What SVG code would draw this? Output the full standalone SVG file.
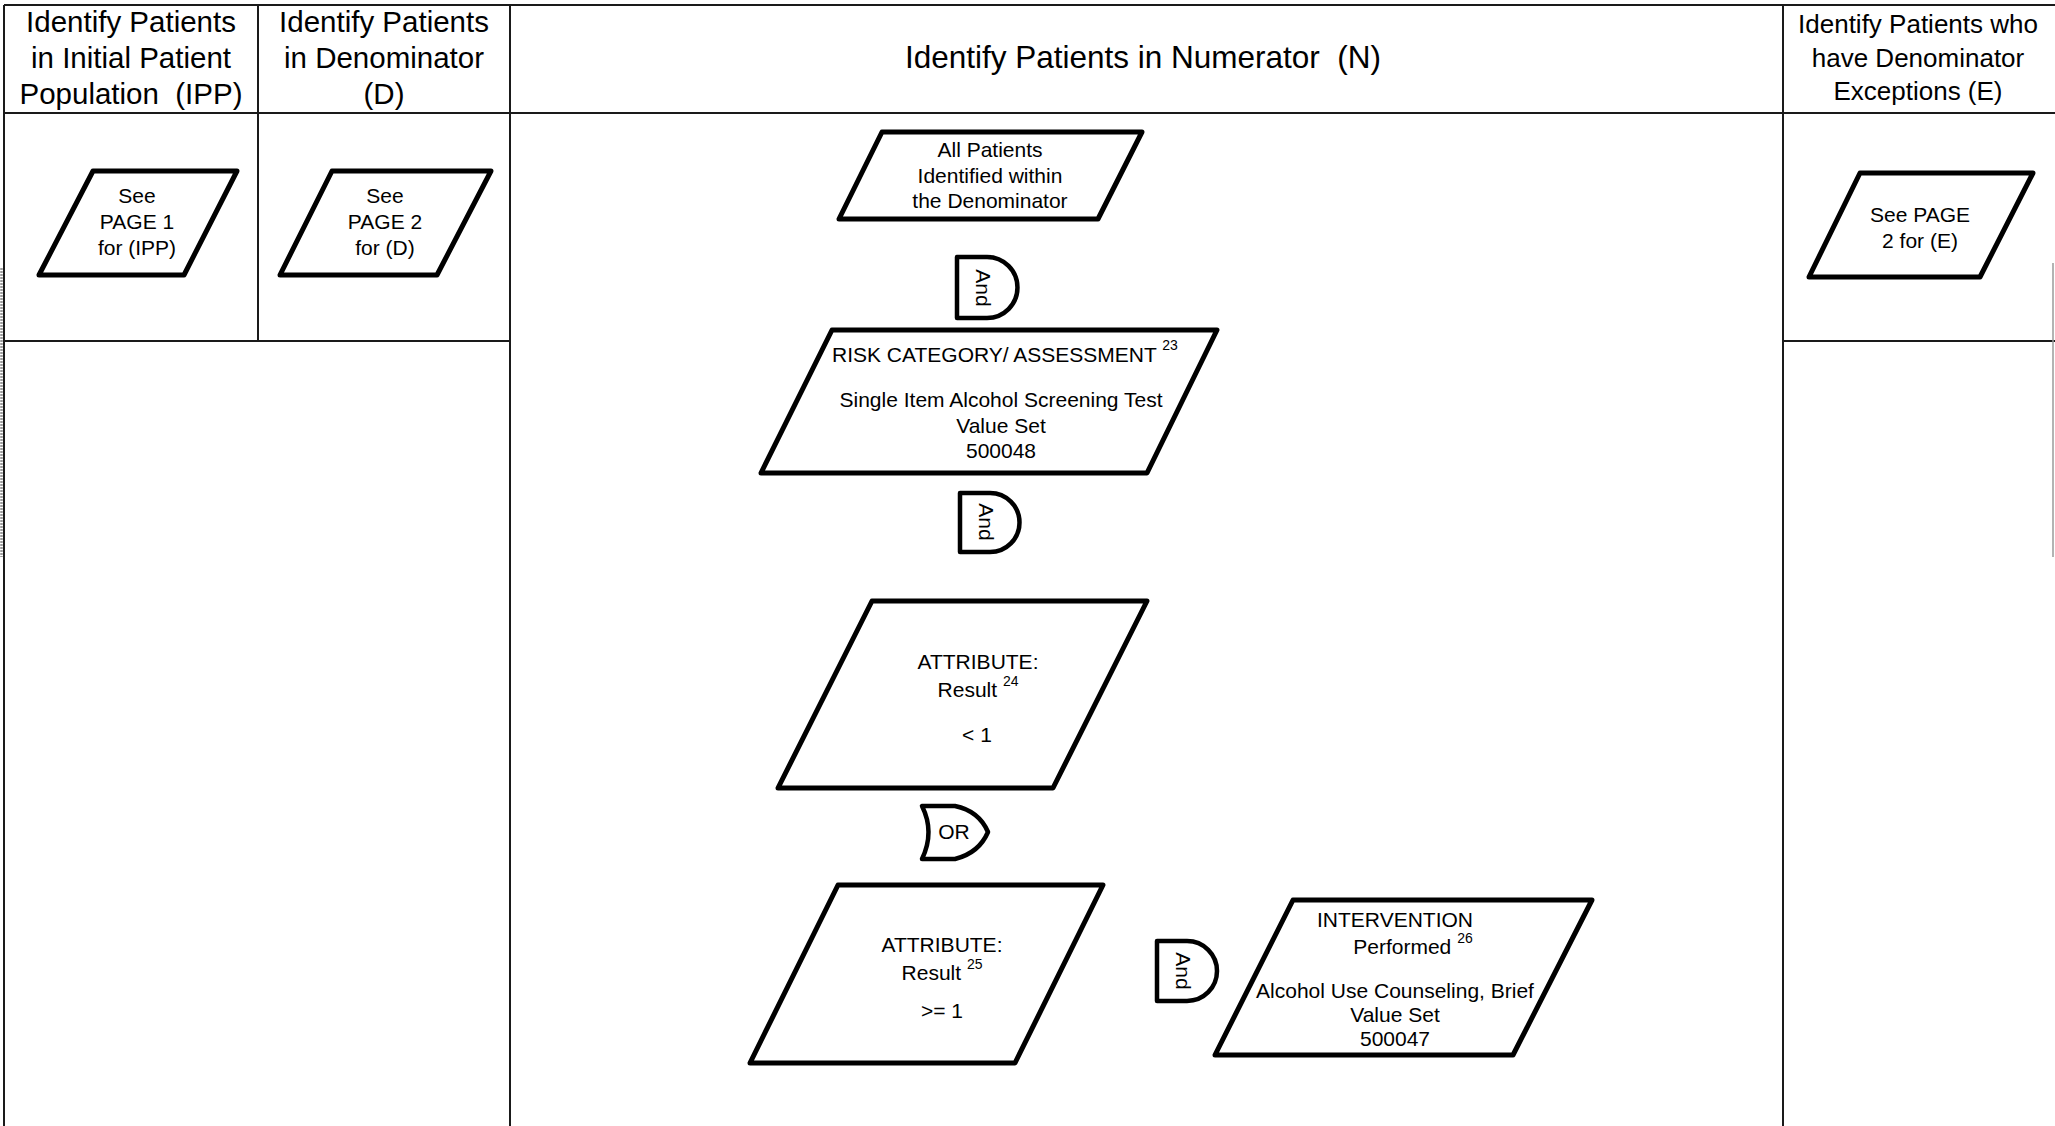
<svg xmlns="http://www.w3.org/2000/svg" width="2055" height="1126" viewBox="0 0 2055 1126">
  <style>
    .grid { stroke: #1a1a1a; stroke-width: 2; fill: none; }
    .shape { fill: #ffffff; stroke: #000000; stroke-width: 5; stroke-linejoin: round; }
    .gate { fill: #ffffff; stroke: #000000; stroke-width: 4.5; stroke-linejoin: round; }
    .hdr { font-family: "Liberation Sans", Arial, sans-serif; fill: #000; text-anchor: middle; }
    .t { font-family: "Liberation Sans", Arial, sans-serif; font-size: 21px; fill: #000; text-anchor: middle; }
    .left { text-anchor: start; }
    .sup { font-size: 14px; }
  </style>

  <rect x="0" y="0" width="2055" height="1126" fill="#ffffff"/>

  <!-- swimlane table -->
  <g id="lanes">
    <line class="grid" x1="4" y1="5" x2="2055" y2="5"/>
    <line class="grid" x1="4" y1="5" x2="4" y2="1126"/>
    <line class="grid" x1="258" y1="5" x2="258" y2="341"/>
    <line class="grid" x1="510" y1="5" x2="510" y2="1126"/>
    <line class="grid" x1="1783" y1="5" x2="1783" y2="1126"/>
    <line class="grid" x1="4" y1="113" x2="2055" y2="113"/>
    <line class="grid" x1="4" y1="341" x2="510" y2="341"/>
    <line class="grid" x1="1783" y1="341" x2="2055" y2="341"/>
    <line x1="1.5" y1="268" x2="1.5" y2="557" stroke="#9a9a9a" stroke-width="2.5" stroke-dasharray="2 1"/>
    <line x1="2053" y1="263" x2="2053" y2="557" stroke="#9a9a9a" stroke-width="1.5"/>
  </g>

  <!-- lane headings -->
  <g id="headings">
    <text class="hdr" font-size="29.5" x="131" y="32">Identify Patients</text>
    <text class="hdr" font-size="29.5" x="131" y="68">in Initial Patient</text>
    <text class="hdr" font-size="29.5" x="131" y="104" xml:space="preserve">Population  (IPP)</text>
    <text class="hdr" font-size="29.5" x="384" y="32">Identify Patients</text>
    <text class="hdr" font-size="29.5" x="384" y="68">in Denominator</text>
    <text class="hdr" font-size="29.5" x="384" y="104">(D)</text>
    <text class="hdr" font-size="31.5" x="1143" y="68" xml:space="preserve">Identify Patients in Numerator  (N)</text>
    <text class="hdr" font-size="26" x="1918" y="33">Identify Patients who</text>
    <text class="hdr" font-size="26" x="1918" y="66.5">have Denominator</text>
    <text class="hdr" font-size="26" x="1918" y="100">Exceptions (E)</text>
  </g>

  <!-- connectors (logic gates joining criteria) -->
  <g id="connectors">
    <g id="and1">
      <path class="gate" d="M957,257 L987,257 A30.5,30.5 0 0 1 987,318 L957,318 Z"/>
      <text class="t" font-size="20" transform="translate(983,288) rotate(90)" y="7">And</text>
    </g>
    <g id="and2">
      <path class="gate" d="M960,493 L990,493 A29.5,29.5 0 0 1 990,552 L960,552 Z"/>
      <text class="t" font-size="20" transform="translate(986,522) rotate(90)" y="7">And</text>
    </g>
    <g id="or1">
      <path class="gate" d="M922,806 L955,806 Q979,811 988,832 Q979,853 955,859 L922,859 Q935,832 922,806 Z"/>
      <text class="t" font-size="20" x="954" y="839">OR</text>
    </g>
    <g id="and3">
      <path class="gate" d="M1157,941 L1187,941 A30,30 0 0 1 1187,1001 L1157,1001 Z"/>
      <text class="t" font-size="20" transform="translate(1183,971) rotate(90)" y="7">And</text>
    </g>
  </g>

  <!-- criteria nodes -->
  <g id="node-ipp">
    <polygon class="shape" points="93,171 237,171 184,275 39,275"/>
    <text class="t" x="137" y="203">See</text>
    <text class="t" x="137" y="229">PAGE 1</text>
    <text class="t" x="137" y="255">for (IPP)</text>
  </g>

  <g id="node-denominator">
    <polygon class="shape" points="332,171 491,171 437,275 280,275"/>
    <text class="t" x="385" y="203">See</text>
    <text class="t" x="385" y="229">PAGE 2</text>
    <text class="t" x="385" y="255">for (D)</text>
  </g>

  <g id="node-exceptions">
    <polygon class="shape" points="1860,173 2033,173 1980,277 1809,277"/>
    <text class="t" x="1920" y="222">See PAGE</text>
    <text class="t" x="1920" y="248">2 for (E)</text>
  </g>

  <g id="node-all-patients">
    <polygon class="shape" points="882,132 1142,132 1098,219 839,219"/>
    <text class="t" x="990" y="157">All Patients</text>
    <text class="t" x="990" y="183">Identified within</text>
    <text class="t" x="990" y="208">the Denominator</text>
  </g>

  <g id="node-risk">
    <polygon class="shape" points="832,330 1217,330 1147,473 761,473"/>
    <text class="t left" x="832" y="362">RISK CATEGORY/ ASSESSMENT <tspan class="sup" dy="-12">23</tspan></text>
    <text class="t" x="1001" y="407">Single Item Alcohol Screening Test</text>
    <text class="t" x="1001" y="433">Value Set</text>
    <text class="t" x="1001" y="458">500048</text>
  </g>

  <g id="node-result-lt1">
    <polygon class="shape" points="872,601 1147,601 1053,788 778,788"/>
    <text class="t" x="978" y="669">ATTRIBUTE:</text>
    <text class="t" x="978" y="697">Result <tspan class="sup" dy="-11">24</tspan></text>
    <text class="t" x="977" y="742">&lt; 1</text>
  </g>

  <g id="node-result-ge1">
    <polygon class="shape" points="838,885 1103,885 1015,1063 750,1063"/>
    <text class="t" x="942" y="952">ATTRIBUTE:</text>
    <text class="t" x="942" y="980">Result <tspan class="sup" dy="-11">25</tspan></text>
    <text class="t" x="942" y="1018">&gt;= 1</text>
  </g>

  <g id="node-intervention">
    <polygon class="shape" points="1293,900 1592,900 1513,1055 1215,1055"/>
    <text class="t" x="1395" y="927">INTERVENTION</text>
    <text class="t" x="1413" y="954">Performed <tspan class="sup" dy="-11">26</tspan></text>
    <text class="t" x="1395" y="998">Alcohol Use Counseling, Brief</text>
    <text class="t" x="1395" y="1022">Value Set</text>
    <text class="t" x="1395" y="1046">500047</text>
  </g>
</svg>
